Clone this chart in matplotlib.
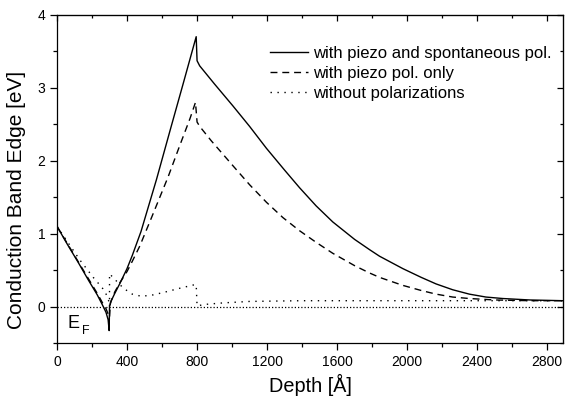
import numpy as np
import matplotlib
matplotlib.use("Agg")
import matplotlib.pyplot as plt
from matplotlib.ticker import MultipleLocator

plt.rcParams['font.family'] = ['Liberation Sans', 'DejaVu Sans']

# with piezo and spontaneous polarization
x_full = [0, 60, 120, 180, 230, 260, 280, 292, 298, 300, 310, 330, 360, 400, 430, 480,
          568, 650, 720, 795, 800, 815, 900, 1005, 1100, 1196, 1300, 1385, 1480, 1575,
          1700, 1785, 1842, 1975, 2080, 2165, 2260, 2355, 2450, 2545, 2700, 2890]
y_full = [1.10, 0.85, 0.61, 0.36, 0.16, 0.02, -0.08, -0.18, -0.33, 0.0, 0.08, 0.18, 0.32, 0.52, 0.70, 1.03,
          1.74, 2.45, 3.05, 3.70, 3.37, 3.30, 3.05, 2.75, 2.47, 2.17, 1.87, 1.63, 1.38, 1.16,
          0.92, 0.78, 0.69, 0.52, 0.40, 0.31, 0.23, 0.17, 0.13, 0.11, 0.09, 0.08]

# with piezo polarization only
x_piezo = [0, 60, 120, 180, 230, 260, 280, 295, 300, 305, 330, 360, 400, 430, 473, 540,
           635, 700, 760, 791, 800, 815, 882, 1005, 1100, 1196, 1290, 1385, 1480, 1575,
           1700, 1785, 1842, 1975, 2080, 2165, 2260, 2355, 2500, 2700, 2890]
y_piezo = [1.10, 0.86, 0.62, 0.38, 0.18, 0.05, -0.03, -0.12, -0.15, 0.05, 0.20, 0.33, 0.48, 0.62, 0.83, 1.22,
           1.78, 2.20, 2.58, 2.80, 2.53, 2.47, 2.27, 1.93, 1.67, 1.43, 1.22, 1.04, 0.88, 0.73,
           0.56, 0.46, 0.40, 0.29, 0.22, 0.17, 0.13, 0.11, 0.09, 0.08, 0.08]

# without polarizations
x_none = [0, 65, 130, 207, 250, 274, 295, 300, 300, 331, 380, 430, 483, 550, 620, 700,
          787, 795, 800, 850, 950, 1100, 1400, 2890]
y_none = [1.10, 0.87, 0.64, 0.40, 0.28, 0.21, 0.08, 0.0, 0.45, 0.37, 0.25, 0.17, 0.14, 0.16, 0.20, 0.25,
          0.30, 0.30, 0.01, 0.03, 0.05, 0.07, 0.08, 0.08]

# Fermi level
x_ef = [0, 2890]
y_ef = [0, 0]

fig = plt.figure(figsize=(5.67, 4.0), dpi=100)
ax = fig.add_axes([0.1005, 0.1425, 0.8925, 0.8205])

lw = 1.0
ax.plot(x_full, y_full, color='black', lw=lw, label='with piezo and spontaneous pol.')
ax.plot(x_piezo, y_piezo, color='black', lw=lw, dashes=(5, 3.5), label='with piezo pol. only')
ax.plot(x_none, y_none, color='black', lw=lw, dashes=(1, 4), label='without polarizations')
ax.plot(x_ef, y_ef, color='black', lw=0.9, dashes=(1, 1.6))

ax.text(60, -0.3, 'E', fontsize=13)
ax.text(145, -0.37, 'F', fontsize=9)

ax.set_xlim(0, 2890)
ax.set_ylim(-0.5, 4)
ax.xaxis.set_major_locator(MultipleLocator(400))
ax.xaxis.set_minor_locator(MultipleLocator(200))
ax.yaxis.set_major_locator(MultipleLocator(1))
ax.yaxis.set_minor_locator(MultipleLocator(0.5))
ax.tick_params(which='both', direction='out', labelsize=10, width=0.9)
ax.tick_params(which='major', length=5)
ax.tick_params(which='minor', length=3)
for sp in ax.spines.values():
    sp.set_linewidth(0.9)

# inward ticks on top and right
top = ax.secondary_xaxis('top')
top.xaxis.set_major_locator(MultipleLocator(400))
top.xaxis.set_minor_locator(MultipleLocator(200))
top.tick_params(which='both', direction='in', labeltop=False, width=0.9)
top.tick_params(which='major', length=4)
top.tick_params(which='minor', length=2.5)
right = ax.secondary_yaxis('right')
right.yaxis.set_major_locator(MultipleLocator(1))
right.yaxis.set_minor_locator(MultipleLocator(0.5))
right.tick_params(which='both', direction='in', labelright=False, width=0.9)
right.tick_params(which='major', length=4)
right.tick_params(which='minor', length=2.5)

ax.set_xlabel('Depth [Å]', fontsize=14.3, labelpad=4)
ax.set_ylabel('Conduction Band Edge [eV]', fontsize=15, labelpad=6)
ax.yaxis.set_label_coords(-0.062, 0.436)

ax.legend(loc='upper left', bbox_to_anchor=(0.421, 0.904), frameon=False, fontsize=12,
          handlelength=2.3, handletextpad=0.3, labelspacing=0.3, borderpad=0, borderaxespad=0)

fig.savefig('out.png', dpi=100)
